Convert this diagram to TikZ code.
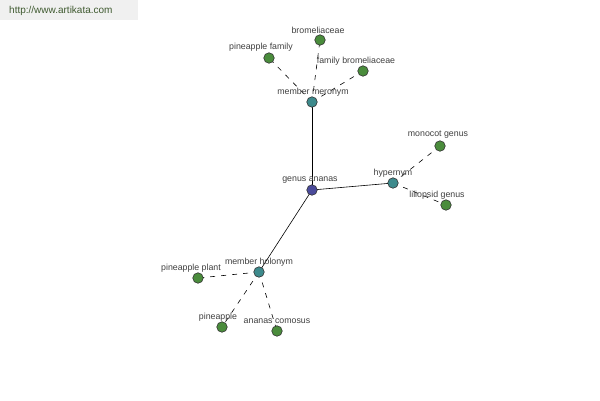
\documentclass[tikz,border=0pt]{standalone}
\usepackage{fontspec}
\setmainfont{Liberation Sans}
\begin{document}
\begin{tikzpicture}[x=1pt,y=-1pt,
  dot/.style={circle,draw=black!80,line width=0.6pt,minimum size=10.5pt,inner sep=0pt},
  leaf/.style={dot,fill=leafgreen},
  rel/.style={dot,fill=relteal},
  root/.style={dot,fill=rootblue},
  lbl/.style={font=\fontsize{8.8}{9}\selectfont,text=black!75,inner sep=0pt},
  solidedge/.style={draw=black,line width=0.6pt},
  dashedge/.style={draw=black,line width=0.6pt,dash pattern=on 5pt off 6pt}]
\definecolor{leafgreen}{HTML}{4A8C3C}
\definecolor{relteal}{HTML}{3D8A8C}
\definecolor{rootblue}{HTML}{4B4B9B}
\definecolor{wmtext}{HTML}{3F5A30}
\definecolor{wmbg}{HTML}{F0F0F0}
\useasboundingbox (0,0) rectangle (600,400);
\fill[white] (0,0) rectangle (600,400);
\fill[wmbg] (0,0) rectangle (138,20);
\node[font=\fontsize{10}{11}\selectfont,text=wmtext,anchor=west,inner sep=0pt] (wm) at (9,11) {http://www.artikata.com};
% nodes
\coordinate (pga) at (312,190);
\coordinate (pmm) at (312,102);
\coordinate (phy) at (393,183);
\coordinate (pmh) at (259,272);
% edges first
\draw[solidedge] (pga) -- (pmm);
\draw[solidedge] (pga) -- (phy);
\draw[solidedge] (pga) -- (pmh);
\draw[dashedge] (pmm) -- (320,40);
\draw[dashedge] (pmm) -- (269,58);
\draw[dashedge] (pmm) -- (363,71);
\draw[dashedge] (phy) -- (440,146);
\draw[dashedge] (phy) -- (446,205);
\draw[dashedge] (pmh) -- (198,278);
\draw[dashedge] (pmh) -- (222,327);
\draw[dashedge] (pmh) -- (277,331);
% circles
\node[root] (ga) at (pga) {};
\node[rel] (mm) at (pmm) {};
\node[rel] (hy) at (phy) {};
\node[rel] (mh) at (pmh) {};
\node[leaf] (br) at (320,40) {};
\node[leaf] (pf) at (269,58) {};
\node[leaf] (fb) at (363,71) {};
\node[leaf] (mg) at (440,146) {};
\node[leaf] (lg) at (446,205) {};
\node[leaf] (pp) at (198,278) {};
\node[leaf] (pa) at (222,327) {};
\node[leaf] (ac) at (277,331) {};
% labels
\node[lbl] (lga) at (310,180) {genus ananas};
\node[lbl] (lmm) at (313,92) {member meronym};
\node[lbl] (lhy) at (393,173) {hypernym};
\node[lbl] (lmh) at (259,262) {member holonym};
\node[lbl] (lbr) at (318,30) {bromeliaceae};
\node[lbl] (lpf) at (261,47) {pineapple family};
\node[lbl] (lfb) at (356,61) {family bromeliaceae};
\node[lbl] (lmg) at (438,135) {monocot genus};
\node[lbl] (llg) at (437,195) {liliopsid genus};
\node[lbl] (lpp) at (191,268) {pineapple plant};
\node[lbl] (lpa) at (218,317) {pineapple};
\node[lbl] (lac) at (277,321) {ananas comosus};
\end{tikzpicture}
\end{document}
